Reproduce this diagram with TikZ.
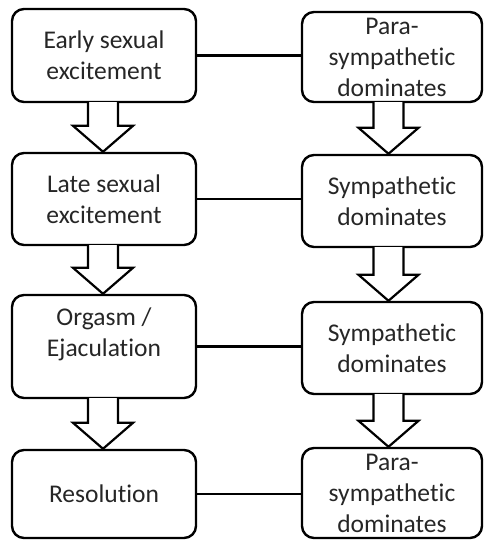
\documentclass[tikz,border=0pt]{standalone}
\usepackage{fontspec}
\setmainfont{Carlito}[Ligatures={NoCommon,NoContextual}, Contextuals=NoAlternate]
\usetikzlibrary{calc}
\begin{document}
\begin{tikzpicture}[x=1pt,y=1pt,
  box/.style={draw=black, line width=2.4pt, rounded corners=12pt, fill=white,
    minimum width=184pt, inner sep=0pt, align=center,
    font=\fontsize{25.5}{31}\selectfont, text=black!85},
  rbox/.style={box, minimum width=180pt},
  txt/.style={inner sep=0pt, align=center, font=\fontsize{25.5}{31}\selectfont, text=black!85},
  link/.style={draw=black, line width=2.8pt},
  fat/.style={draw=black, line width=2.2pt, fill=white, line join=miter}]
\useasboundingbox (0,0) rectangle (484,540);
% left column
\node[box, minimum height=93pt] (L1) at (104,484.5) {Early sexual\\excitement};
\node[box, minimum height=92pt] (L2) at (104,341) {Late sexual\\excitement};
\node[box, minimum height=103pt] (L3) at (104,193.5) {};
\node[txt] (L3t) at (104,206) {Orgasm /\\Ejaculation};
\node[box, minimum height=88pt] (L4) at (104,46) {Resolu\kern0ptt\kern0ption};
% right column
\node[rbox, minimum height=90pt] (R1) at (392,483) {Para-\\sympathe\kern0ptt\kern0ptic\\dominates};
\node[rbox, minimum height=92pt] (R2) at (392,339) {Sympathe\kern0ptt\kern0ptic\\dominates};
\node[rbox, minimum height=92pt] (R3) at (392,192) {Sympathe\kern0ptt\kern0ptic\\dominates};
\node[rbox, minimum height=90pt] (R4) at (392,47) {Para-\\sympathe\kern0ptt\kern0ptic\\dominates};
% horizontal links
\draw[link] (L1.east) -- (L1.east -| R1.west);
\draw[link] (L2.east) -- (L2.east -| R2.west);
\draw[link] (L3.east) -- (L3.east -| R3.west);
\draw[link] (L4.east) -- (L4.east -| R4.west);
% block arrows
\newcommand\fatarrow[3]{%
  \draw[fat] let \p1=(#1.south), \p2=(#2.north) in
    (\x1+#3-15,\y1+1) -- (\x1+#3-15,\y2+26) -- (\x1+#3-30,\y2+26) -- (\x1+#3,\y2)
    -- (\x1+#3+30,\y2+26) -- (\x1+#3+15,\y2+26) -- (\x1+#3+15,\y1+1);}
\fatarrow{L1}{L2}{-1}
\fatarrow{L2}{L3}{-1}
\fatarrow{L3}{L4}{-1}
\fatarrow{R1}{R2}{-3.5}
\fatarrow{R2}{R3}{-3.5}
\fatarrow{R3}{R4}{-3.5}
\end{tikzpicture}
\end{document}
